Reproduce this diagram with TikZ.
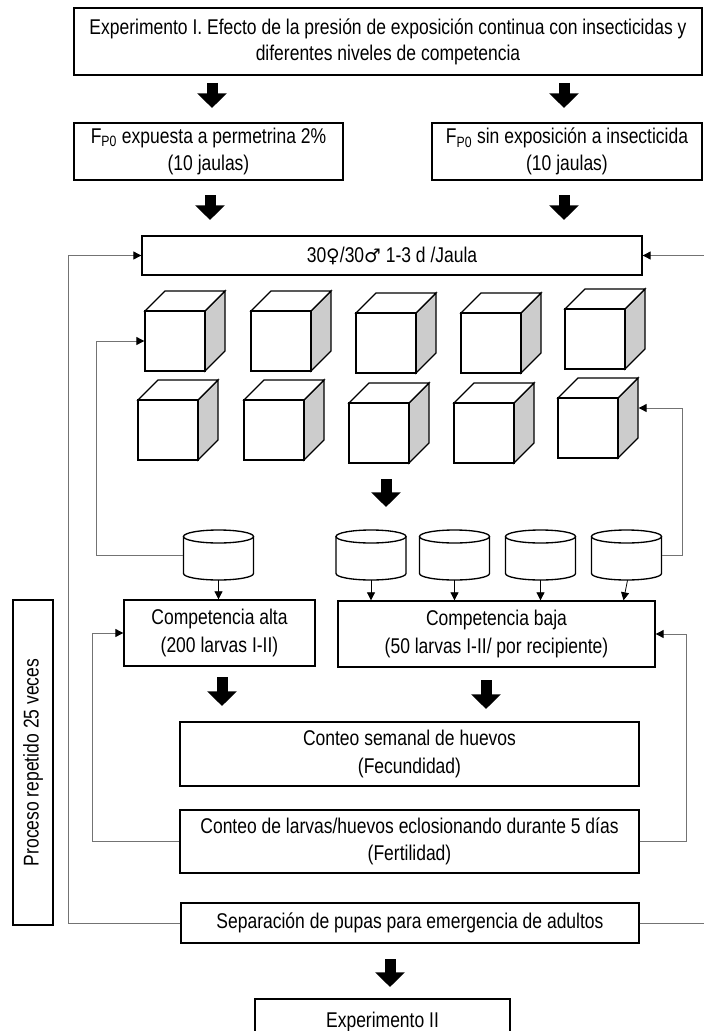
\documentclass[tikz,border=0pt]{standalone}
\usepackage{fontspec}
\setmainfont{Liberation Sans}[FakeStretch=0.82]
\newfontfamily\symfont{DejaVu Sans}
\usetikzlibrary{arrows.meta,calc}
\newcommand\diagfont{\fontsize{16}{20.3}\selectfont}
\begin{document}
\begin{tikzpicture}[x=0.75pt,y=-0.75pt,
  box/.style={draw, line width=1pt, fill=white, align=center, inner sep=0pt, font=\diagfont},
  wh/.style 2 args={minimum width=#1*0.75pt, minimum height=#2*0.75pt},
  cubeline/.style={line width=1pt, draw=black},
  cylbox/.style={inner sep=0pt, minimum width=52.5pt, minimum height=37.5pt},
  loopline/.style={draw=black!55, line width=0.75pt, -{Triangle[length=6pt,width=6pt,color=black]}},
  smallarr/.style={draw=black, line width=0.6pt, -{Triangle[length=6pt,width=6pt]}},
  bigarr/.style={line width=8.25pt, -{Triangle[length=11pt,width=21.5pt]}}]
\useasboundingbox (0,0) rectangle (703,1031);

% boxes
\node[box, wh={628}{67}] (top) at (388,41.5) {Experimento I. Efecto de la presión de exposición continua con insecticidas y\\[-1pt] diferentes niveles de competencia};
\node[box, wh={269}{57}] (fpa) at (208.5,151.5) {F\textsubscript{P0} expuesta a permetrina 2\%\\(10 jaulas)};
\node[box, wh={270}{57}] (fpb) at (567,151.5) {F\textsubscript{P0} sin exposición a insecticida\\(10 jaulas)};
\node[box, wh={500}{39}] (jaula) at (392,255.5) {30{\symfont\fontsize{14}{16}\selectfont ♀}/30{\symfont\fontsize{14}{16}\selectfont ♂} 1-3 d /Jaula};
\node[box, wh={191}{66}] (calta) at (219.5,633) {Competencia alta\\(200 larvas I-II)};
\node[box, wh={317}{66}] (cbaja) at (496.5,634) {Competencia baja\\(50 larvas I-II/ por recipiente)};
\node[box, wh={459}{64}] (fec) at (409.5,754) {Conteo semanal de huevos\\(Fecundidad)};
\node[box, wh={459}{63}] (fer) at (409.5,841.5) {Conteo de larvas/huevos eclosionando durante 5 días\\(Fertilidad)};
\node[box, wh={458}{40}] (sep) at (410,923) {Separación de pupas para emergencia de adultos};
\node[box, wh={255}{46}] (exp2) at (382.5,1022) {Experimento II};
\node[box, wh={40}{325}] (proc) at (33,762.5) {\rotatebox{90}{Proceso repetido 25 veces}};

% cubes
\foreach \n/\x/\y in {11/145/311, 12/251/311, 13/356/313, 14/461/313, 15/565/309,
                      21/138/400, 22/244/400, 23/349/403, 24/454/403, 25/558/398}{
  \draw[cubeline, fill=gray!40] (\x+60,\y) -- (\x+80,\y-20) -- (\x+80,\y+40) -- (\x+60,\y+60) -- cycle;
  \draw[cubeline, fill=white] (\x,\y) -- (\x+20,\y-20) -- (\x+80,\y-20) -- (\x+60,\y) -- cycle;
  \node[cubeline, fill=white, minimum size=45pt, inner sep=0pt] (c\n) at (\x+30,\y+30) {};
}

% cylinders
\foreach \n/\cx in {1/218.5, 2/371, 3/454.5, 4/540.5, 5/626.5}{
  \node[cylbox] (y\n) at (\cx,555) {};
  \fill[white] (\cx-35,536.5) -- (\cx-35,573.5) arc[start angle=180, end angle=0, x radius=35, y radius=6.5] -- (\cx+35,536.5) -- cycle;
  \draw[cubeline] (\cx-35,536.5) -- (\cx-35,573.5) arc[start angle=180, end angle=0, x radius=35, y radius=6.5] -- (\cx+35,536.5);
  \draw[cubeline, fill=white] (\cx,536.5) ellipse[x radius=35, y radius=6.5];
}

% thick arrows
\coordinate (a1s) at (212,83);  \coordinate (a1e) at (212,108);
\coordinate (a2s) at (564,83);  \coordinate (a2e) at (564,108);
\coordinate (a3s) at (210,195); \coordinate (a3e) at (210,220);
\coordinate (a4s) at (564,195); \coordinate (a4e) at (564,220);
\coordinate (a5s) at (386,479); \coordinate (a5e) at (386,507);
\coordinate (a6s) at (222,677); \coordinate (a6e) at (222,706);
\coordinate (a7s) at (486,680); \coordinate (a7e) at (486,709);
\coordinate (a8s) at (390,959); \coordinate (a8e) at (390,987);
\foreach \i in {1,...,8}{\draw[bigarr] (a\i s) -- (a\i e);}

% cylinder to competition boxes
\draw[smallarr] (y1.south) -- (y1.south |- calta.north);
\draw[smallarr] (y2.south) -- (y2.south |- cbaja.north);
\draw[smallarr] (y3.south) -- (y3.south |- cbaja.north);
\draw[smallarr] (y4.south) -- (y4.south |- cbaja.north);
\draw[smallarr] ([xshift=0.75pt]y5.south) -- ([xshift=-2.25pt]y5.south |- cbaja.north);

% loops
\coordinate (xL) at (68,0);
\coordinate (xR) at (712,0);
\coordinate (xc) at (96,0);
\coordinate (xd) at (682,0);
\coordinate (xe) at (92,0);
\coordinate (xf) at (686,0);
\coordinate (c25t) at ([xshift=15pt,yshift=15pt]c25.east);
\draw[loopline] (sep.west) -- (xL |- sep.west) -- (xL |- jaula.west) -- (jaula.west);
\draw[loopline] (sep.east) -- (xR |- sep.east) -- (xR |- jaula.east) -- (jaula.east);
\draw[loopline] (y1.west) -- (xc |- y1.west) -- (xc |- c11.west) -- (c11.west);
\draw[loopline] (y5.east) -- (xd |- y5.east) -- (xd |- c25t) -- (c25t);
\draw[loopline] (fer.west) -- (xe |- fer.west) -- (xe |- calta.west) -- (calta.west);
\draw[loopline] (fer.east) -- (xf |- fer.east) -- (xf |- cbaja.east) -- (cbaja.east);
\end{tikzpicture}
\end{document}
